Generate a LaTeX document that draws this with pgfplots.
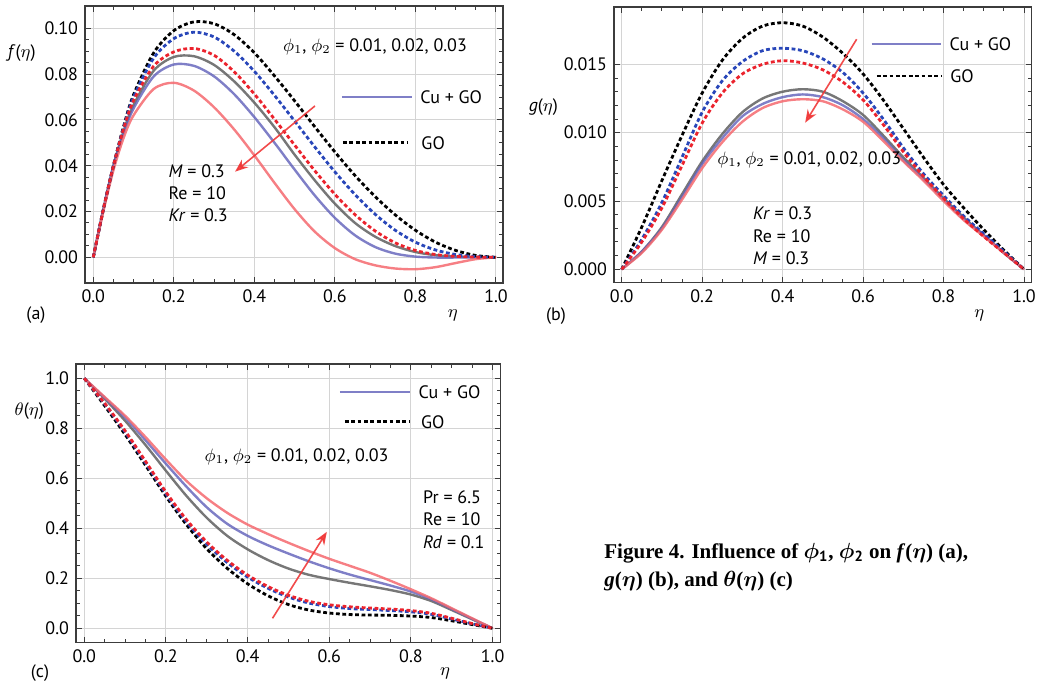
\documentclass[border=0pt]{standalone}
\usepackage{amsmath}
\usepackage{bm}
\usepackage{fontspec}
\setmainfont{PT Sans}
\newfontfamily\capfont{Liberation Serif}
\usepackage{pgfplots}
\pgfplotsset{compat=1.18}
\usetikzlibrary{arrows.meta}

\definecolor{framec}{RGB}{60,60,60}
\definecolor{gridc}{RGB}{212,212,212}
\definecolor{solgray}{RGB}{95,95,95}
\definecolor{solblue}{RGB}{95,95,185}
\definecolor{solred}{RGB}{245,105,110}
\definecolor{dblue}{RGB}{40,70,185}
\definecolor{dred}{RGB}{235,35,45}
\definecolor{arr}{RGB}{240,55,55}

\newcommand{\txt}{\fontsize{9}{11}\selectfont}

\tikzset{
  lab/.style={font=\txt, anchor=west, inner sep=0pt},
  arrw/.style={arr, line width=0.8pt, opacity=0.9, -{Stealth[length=6.5pt,width=5pt]}},
}

\pgfplotsset{
  panel/.style={
    scale only axis, anchor=south west,
    axis line style={framec, line width=0.6pt},
    grid=major, major grid style={gridc, line width=0.5pt},
    tick align=inside, major tick length=3pt, minor tick length=1.8pt,
    every tick/.style={framec, line width=0.5pt},
    minor x tick num=3,
    xtick={0,0.2,0.4,0.6,0.8,1},
    scaled x ticks=false, scaled y ticks=false,
    xticklabel style={/pgf/number format/.cd, fixed, fixed zerofill, precision=1},
    ticklabel style={font=\txt},
    /pgf/number format/assume math mode=true,
  },
  sgray/.style={solgray, line width=1.2pt, opacity=0.85, smooth},
  sblue/.style={solblue, line width=1.2pt, opacity=0.8, smooth},
  sred/.style={solred, line width=1.2pt, opacity=0.85, smooth},
  dk/.style={black, line width=1.4pt, dash pattern=on 1.9pt off 1.3pt, smooth},
  db/.style={dblue, line width=1.4pt, dash pattern=on 1.9pt off 1.3pt, smooth},
  dr/.style={dred, line width=1.4pt, dash pattern=on 1.9pt off 1.3pt, smooth},
}

\begin{document}
\begin{tikzpicture}
\useasboundingbox (0,0) rectangle (519pt,-342pt);

% ---------- (a) f(eta) ----------
\begin{axis}[panel, at={(42.5pt,-141.5pt)}, width=209pt, height=138.5pt,
  xmin=-0.0206, xmax=1.0174, ymin=-0.01122, ymax=0.10974,
  ytick={0,0.02,0.04,0.06,0.08,0.1}, minor y tick num=3,
  yticklabel style={/pgf/number format/.cd, fixed, fixed zerofill, precision=2}]
\addplot[sgray] coordinates {(0,0) (0.025,0.021) (0.05,0.040) (0.075,0.055) (0.1,0.0665) (0.15,0.0815) (0.2,0.0875) (0.25,0.0878) (0.3,0.0840) (0.35,0.0768) (0.4,0.0675) (0.45,0.0568) (0.5,0.0448) (0.55,0.0336) (0.6,0.0234) (0.65,0.0150) (0.7,0.0090) (0.75,0.0049) (0.8,0.0023) (0.85,0.0009) (0.9,0.0003) (0.95,0.0001) (1,0)};
\addplot[sblue] coordinates {(0,0) (0.025,0.021) (0.05,0.040) (0.075,0.054) (0.1,0.065) (0.15,0.0790) (0.2,0.0842) (0.25,0.0836) (0.3,0.0790) (0.35,0.0712) (0.4,0.0612) (0.45,0.0500) (0.5,0.0383) (0.55,0.0270) (0.6,0.0172) (0.65,0.0096) (0.7,0.0045) (0.75,0.0016) (0.8,0.0003) (0.85,-0.0001) (0.9,-0.0001) (0.95,0) (1,0)};
\addplot[sred] coordinates {(0,0) (0.025,0.020) (0.05,0.038) (0.075,0.052) (0.1,0.062) (0.15,0.0735) (0.2,0.0762) (0.25,0.0728) (0.3,0.0655) (0.35,0.0558) (0.4,0.0445) (0.45,0.0325) (0.5,0.0210) (0.55,0.0112) (0.6,0.0040) (0.65,-0.0008) (0.7,-0.0035) (0.75,-0.0049) (0.8,-0.0052) (0.85,-0.0043) (0.9,-0.0025) (0.95,-0.0008) (1,0)};
\addplot[dk] coordinates {(0,0) (0.025,0.021) (0.05,0.040) (0.075,0.057) (0.1,0.0710) (0.15,0.0893) (0.2,0.0990) (0.25,0.1028) (0.3,0.1020) (0.35,0.0972) (0.4,0.0893) (0.45,0.0792) (0.5,0.0683) (0.55,0.0570) (0.6,0.0460) (0.65,0.0357) (0.7,0.0265) (0.75,0.0185) (0.8,0.0118) (0.85,0.0066) (0.9,0.0030) (0.95,0.0008) (1,0)};
\addplot[db] coordinates {(0,0) (0.025,0.021) (0.05,0.040) (0.075,0.0565) (0.1,0.0700) (0.15,0.0870) (0.2,0.0955) (0.25,0.0983) (0.3,0.0962) (0.35,0.0900) (0.4,0.0812) (0.45,0.0707) (0.5,0.0595) (0.55,0.0482) (0.6,0.0373) (0.65,0.0274) (0.7,0.0188) (0.75,0.0118) (0.8,0.0066) (0.85,0.0032) (0.9,0.0012) (0.95,0.0003) (1,0)};
\addplot[dr] coordinates {(0,0) (0.025,0.021) (0.05,0.040) (0.075,0.056) (0.1,0.0685) (0.15,0.0835) (0.2,0.0897) (0.25,0.0912) (0.3,0.0882) (0.35,0.0810) (0.4,0.0713) (0.45,0.0603) (0.5,0.0490) (0.55,0.0378) (0.6,0.0275) (0.65,0.0186) (0.7,0.0115) (0.75,0.0063) (0.8,0.0030) (0.85,0.0012) (0.9,0.0004) (0.95,0.0001) (1,0)};
\node[font=\txt] at (axis cs:0.6995,0.092) {$\phi_1$, $\phi_2$ = 0.01, 0.02, 0.03};
\draw[solblue, line width=1.2pt, opacity=0.8] (axis cs:0.617,0.0699) -- (axis cs:0.791,0.0699);
\node[lab] at (axis cs:0.811,0.0699) {Cu + GO};
\draw[black, line width=1.4pt, dash pattern=on 1.9pt off 1.3pt] (axis cs:0.620,0.050) -- (axis cs:0.781,0.050);
\node[lab] at (axis cs:0.814,0.050) {GO};
\draw[arrw] (axis cs:0.5505,0.0661) -- (axis cs:0.352,0.0374);
\node[lab] at (axis cs:0.186,0.0378) {\textit{M} = 0.3};
\node[lab] at (axis cs:0.186,0.0282) {Re = 10};
\node[lab] at (axis cs:0.186,0.0185) {\textit{Kr} = 0.3};
\end{axis}

% ---------- (b) g(eta) ----------
\begin{axis}[panel, at={(307pt,-141.35pt)}, width=208.85pt, height=137.85pt,
  xmin=-0.0191, xmax=1.0191, ymin=-0.00098, ymax=0.0192,
  ytick={0,0.005,0.01,0.015}, minor y tick num=4,
  yticklabel style={/pgf/number format/.cd, fixed, fixed zerofill, precision=3}]
\addplot[sgray] coordinates {(0,0) (0.05,0.0013) (0.1,0.0031) (0.15,0.0055) (0.2,0.0079) (0.25,0.0099) (0.3,0.0115) (0.35,0.0125) (0.4,0.0130) (0.45,0.01318) (0.5,0.0130) (0.55,0.0123) (0.6,0.0113) (0.65,0.0098) (0.7,0.0082) (0.75,0.0067) (0.8,0.0052) (0.85,0.0038) (0.9,0.0025) (0.95,0.0012) (1,0)};
\addplot[sblue] coordinates {(0,0) (0.05,0.0013) (0.1,0.0030) (0.15,0.0053) (0.2,0.0077) (0.25,0.0096) (0.3,0.0112) (0.35,0.0121) (0.4,0.0126) (0.45,0.0128) (0.5,0.0126) (0.55,0.0120) (0.6,0.0110) (0.65,0.0096) (0.7,0.0080) (0.75,0.0066) (0.8,0.0051) (0.85,0.0037) (0.9,0.0025) (0.95,0.0012) (1,0)};
\addplot[sred] coordinates {(0,0) (0.05,0.0012) (0.1,0.0029) (0.15,0.0051) (0.2,0.0074) (0.25,0.0093) (0.3,0.0108) (0.35,0.0118) (0.4,0.0123) (0.45,0.01245) (0.5,0.0123) (0.55,0.0117) (0.6,0.0108) (0.65,0.0094) (0.7,0.0079) (0.75,0.0065) (0.8,0.0050) (0.85,0.0036) (0.9,0.0024) (0.95,0.0012) (1,0)};
\addplot[dk] coordinates {(0,0) (0.05,0.0031) (0.1,0.0065) (0.15,0.0098) (0.2,0.0129) (0.25,0.0153) (0.3,0.0169) (0.35,0.0178) (0.4,0.01805) (0.45,0.0178) (0.5,0.0170) (0.55,0.0158) (0.6,0.0143) (0.65,0.0124) (0.7,0.0103) (0.75,0.0082) (0.8,0.0062) (0.85,0.0045) (0.9,0.0029) (0.95,0.0014) (1,0)};
\addplot[db] coordinates {(0,0) (0.05,0.0022) (0.1,0.0049) (0.15,0.0082) (0.2,0.0115) (0.25,0.0138) (0.3,0.0152) (0.35,0.0160) (0.4,0.01618) (0.45,0.0160) (0.5,0.0154) (0.55,0.0144) (0.6,0.0129) (0.65,0.0110) (0.7,0.0089) (0.75,0.0070) (0.8,0.0054) (0.85,0.0039) (0.9,0.0026) (0.95,0.0013) (1,0)};
\addplot[dr] coordinates {(0,0) (0.05,0.0020) (0.1,0.0045) (0.15,0.0076) (0.2,0.0107) (0.25,0.0129) (0.3,0.0143) (0.35,0.0150) (0.4,0.01527) (0.45,0.0151) (0.5,0.0146) (0.55,0.0137) (0.6,0.0124) (0.65,0.0106) (0.7,0.0086) (0.75,0.0068) (0.8,0.0052) (0.85,0.0037) (0.9,0.0024) (0.95,0.0012) (1,0)};
\draw[solblue, line width=1.2pt, opacity=0.8] (axis cs:0.621,0.01649) -- (axis cs:0.793,0.01649);
\node[lab] at (axis cs:0.814,0.01649) {Cu + GO};
\draw[black, line width=1.4pt, dash pattern=on 1.9pt off 1.3pt] (axis cs:0.634,0.01415) -- (axis cs:0.795,0.01415);
\node[lab] at (axis cs:0.816,0.01415) {GO};
\draw[arrw] (axis cs:0.584,0.01684) -- (axis cs:0.456,0.01073);
\node[font=\txt] at (axis cs:0.466,0.0080) {$\phi_1$, $\phi_2$ = 0.01, 0.02, 0.03};
\node[lab] at (axis cs:0.3256,0.0041) {\textit{Kr} = 0.3};
\node[lab] at (axis cs:0.3256,0.00244) {Re = 10};
\node[lab] at (axis cs:0.3256,0.00081) {\textit{M} = 0.3};
\end{axis}

% ---------- (c) theta(eta) ----------
\begin{axis}[panel, at={(38pt,-321.35pt)}, width=212.35pt, height=139.35pt,
  xmin=-0.0203, xmax=1.0198, ymin=-0.0576, ymax=1.0572,
  ytick={0,0.2,0.4,0.6,0.8,1}, minor y tick num=3,
  yticklabel style={/pgf/number format/.cd, fixed, fixed zerofill, precision=1}]
\addplot[sgray] coordinates {(0,1) (0.05,0.918) (0.1,0.83) (0.15,0.733) (0.2,0.63) (0.25,0.53) (0.3,0.442) (0.35,0.37) (0.4,0.316) (0.45,0.273) (0.5,0.239) (0.55,0.214) (0.6,0.197) (0.65,0.182) (0.7,0.168) (0.75,0.153) (0.8,0.135) (0.85,0.109) (0.9,0.073) (0.95,0.036) (1,0)};
\addplot[sblue] coordinates {(0,1) (0.05,0.922) (0.1,0.843) (0.15,0.752) (0.2,0.658) (0.25,0.567) (0.3,0.484) (0.35,0.418) (0.4,0.37) (0.45,0.332) (0.5,0.299) (0.55,0.268) (0.6,0.24) (0.65,0.215) (0.7,0.193) (0.75,0.171) (0.8,0.147) (0.85,0.116) (0.9,0.077) (0.95,0.038) (1,0)};
\addplot[sred] coordinates {(0,1) (0.05,0.925) (0.1,0.85) (0.15,0.765) (0.2,0.675) (0.25,0.59) (0.3,0.52) (0.35,0.462) (0.4,0.415) (0.45,0.377) (0.5,0.342) (0.55,0.309) (0.6,0.278) (0.65,0.25) (0.7,0.222) (0.75,0.19) (0.8,0.156) (0.85,0.12) (0.9,0.08) (0.95,0.04) (1,0)};
\addplot[dk] coordinates {(0,1) (0.05,0.89) (0.1,0.775) (0.15,0.652) (0.2,0.528) (0.25,0.415) (0.3,0.318) (0.35,0.24) (0.4,0.178) (0.45,0.13) (0.5,0.095) (0.55,0.073) (0.6,0.061) (0.65,0.055) (0.7,0.053) (0.75,0.052) (0.8,0.049) (0.85,0.043) (0.9,0.03) (0.95,0.015) (1,0)};
\addplot[db] coordinates {(0,1) (0.05,0.897) (0.1,0.785) (0.15,0.662) (0.2,0.538) (0.25,0.427) (0.3,0.336) (0.35,0.263) (0.4,0.205) (0.45,0.16) (0.5,0.125) (0.55,0.101) (0.6,0.087) (0.65,0.079) (0.7,0.075) (0.75,0.071) (0.8,0.066) (0.85,0.056) (0.9,0.037) (0.95,0.018) (1,0)};
\addplot[dr] coordinates {(0,1) (0.05,0.9) (0.1,0.79) (0.15,0.668) (0.2,0.545) (0.25,0.435) (0.3,0.345) (0.35,0.272) (0.4,0.213) (0.45,0.167) (0.5,0.132) (0.55,0.108) (0.6,0.094) (0.65,0.086) (0.7,0.081) (0.75,0.077) (0.8,0.071) (0.85,0.06) (0.9,0.04) (0.95,0.019) (1,0)};
\draw[solblue, line width=1.2pt, opacity=0.8] (axis cs:0.626,0.946) -- (axis cs:0.798,0.946);
\node[lab] at (axis cs:0.818,0.946) {Cu + GO};
\draw[black, line width=1.4pt, dash pattern=on 1.9pt off 1.3pt] (axis cs:0.638,0.826) -- (axis cs:0.798,0.826);
\node[lab] at (axis cs:0.824,0.826) {GO};
\node[font=\txt] at (axis cs:0.52,0.684) {$\phi_1$, $\phi_2$ = 0.01, 0.02, 0.03};
\node[lab] at (axis cs:0.829,0.526) {Pr = 6.5};
\node[lab] at (axis cs:0.829,0.436) {Re = 10};
\node[lab] at (axis cs:0.829,0.346) {\textit{Rd} = 0.1};
\draw[arrw] (axis cs:0.461,0.04) -- (axis cs:0.594,0.386);
\end{axis}

% ---------- labels outside the axes ----------
\node[font=\txt] at (10.85pt,-26.65pt) {\textit{f}($\eta$)};
\node[font=\txt] at (18pt,-157.5pt) {(a)};
\node[font=\txt] at (226.35pt,-157.5pt) {$\eta$};
\node[font=\txt] at (271.65pt,-53.65pt) {\textit{g}($\eta$)};
\node[font=\txt] at (278pt,-158pt) {(b)};
\node[font=\txt] at (489.65pt,-157.5pt) {$\eta$};
\node[font=\txt] at (14.65pt,-205.5pt) {$\theta$($\eta$)};
\node[font=\txt] at (20pt,-336.5pt) {(c)};
\node[font=\txt] at (222.5pt,-336.5pt) {$\eta$};

% ---------- caption ----------
\node[anchor=base west, inner sep=0pt, font=\capfont\bfseries\fontsize{10.5}{12}\selectfont]
  at (302pt,-279pt) {Figure 4. Influence of $\bm{\phi}_{\mathbf{1}}$, $\bm{\phi}_{\mathbf{2}}$ on \textit{f}($\bm{\eta}$) (a),};
\node[anchor=base west, inner sep=0pt, font=\capfont\bfseries\fontsize{10.5}{12}\selectfont]
  at (302pt,-293pt) {\textit{g}($\bm{\eta}$) (b), and $\bm{\theta}$($\bm{\eta}$) (c)};
\end{tikzpicture}
\end{document}
